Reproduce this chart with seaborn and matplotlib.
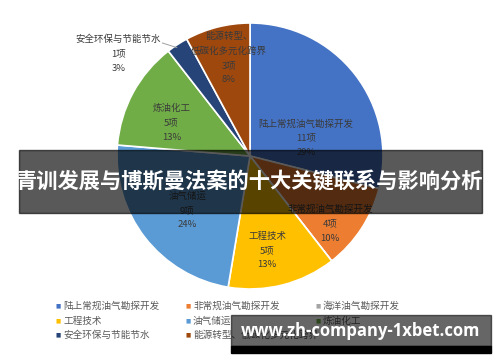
import numpy as np
import matplotlib
matplotlib.use("Agg")
import matplotlib.pyplot as plt
import seaborn as sns

categories = ["陆上常规油气勘探开发", "非常规油气勘探开发", "海洋油气勘探开发", "工程技术",
              "油气储运", "炼油化工", "安全环保与节能节水", "能源转型、低碳化多元化跨界"]
slice_labels = ["陆上常规油气勘探开发", "非常规油气勘探开发", "海洋油气勘探开发", "工程技术",
                "油气储运", "炼油化工", "安全环保与节能节水", "能源转型、\n低碳化多元化跨界"]
counts = [11, 4, 0, 5, 9, 5, 1, 3]
percents = ["29%", "10%", "0%", "13%", "24%", "13%", "3%", "8%"]
title = "青训发展与博斯曼法案的十大关键联系与影响分析"
watermark = "www.zh-company-1xbet.com"

colors = ["#4472C4", "#ED7D31", "#A5A5A5", "#FFC000", "#5B9BD5", "#70AD47", "#264478", "#9E480E"]

sns.set_theme(style="white")
plt.rcParams['font.family'] = ['Noto Sans CJK SC', 'DejaVu Sans']

W, H = 500, 362
fig = plt.figure(figsize=(5, 3.62), dpi=100)
cx, cy, r = 250, 156, 133
ax = fig.add_axes([(cx - r) / W, (H - cy - r) / H, 2 * r / W, 2 * r / H])
pal = sns.color_palette(colors)
wedges, _ = ax.pie(counts, colors=pal, startangle=90, counterclock=False,
                   wedgeprops=dict(edgecolor="white", linewidth=1.2), radius=1)
ax.set_xlim(-1, 1)
ax.set_ylim(-1, 1)
ax.set_aspect("equal")
ax.axis("off")

# label positions (data coords relative to pie center/radius)
label_pos = {0: (0.42, 0.135), 1: (0.60, -0.51), 3: (0.13, -0.71), 4: (-0.47, -0.41),
             5: (-0.59, 0.25), 6: (-0.99, 0.77), 7: (-0.16, 0.74)}
for i, (x, y) in label_pos.items():
    txt = f"{slice_labels[i]}\n{counts[i]}项\n{percents[i]}"
    ax.text(x, y, txt, ha="center", va="center", fontsize=6.8, color="#3a3a3a",
            linespacing=1.75)
ax.plot([-0.66, -0.55], [0.85, 0.815], color="#A0A0A0", lw=0.7)

# legend (row-wise, 3 columns)
col_x = [58, 188, 318]
row_y = [306, 321, 335]
for k, name in enumerate(categories):
    rr, cc = divmod(k, 3)
    fig.text(col_x[cc] / W, 1 - row_y[rr] / H, "■", ha="center", va="center",
             fontsize=4, color=pal[k], family=["DejaVu Sans"])
    fig.text((col_x[cc] + 5) / W, 1 - row_y[rr] / H, name, ha="left", va="center",
             fontsize=6.9, color="#595959")

# title banner
fig.patches.append(plt.Rectangle((19 / W, 1 - 213 / H), 463 / W, 63 / H,
                                 transform=fig.transFigure, color="black", alpha=0.65, zorder=5))
fig.text(250 / W, 1 - 182 / H, title, ha="center", va="center", fontsize=15.3,
         color="white", fontweight="bold", zorder=6)

# watermark
fig.patches.append(plt.Rectangle((231 / W, 1 - 346 / H), 260 / W, 31 / H,
                                 transform=fig.transFigure, color="black", alpha=0.6, zorder=5))
fig.patches.append(plt.Rectangle((231 / W, 1 - 353 / H), 260 / W, 7 / H,
                                 transform=fig.transFigure, color="black", zorder=5))
fig.text(361 / W, 1 - 331 / H, watermark, ha="center", va="center", fontsize=12,
         color="white", fontweight="bold", family=["Open Sans", "DejaVu Sans"], zorder=6)

fig.savefig("out.png", dpi=100)
